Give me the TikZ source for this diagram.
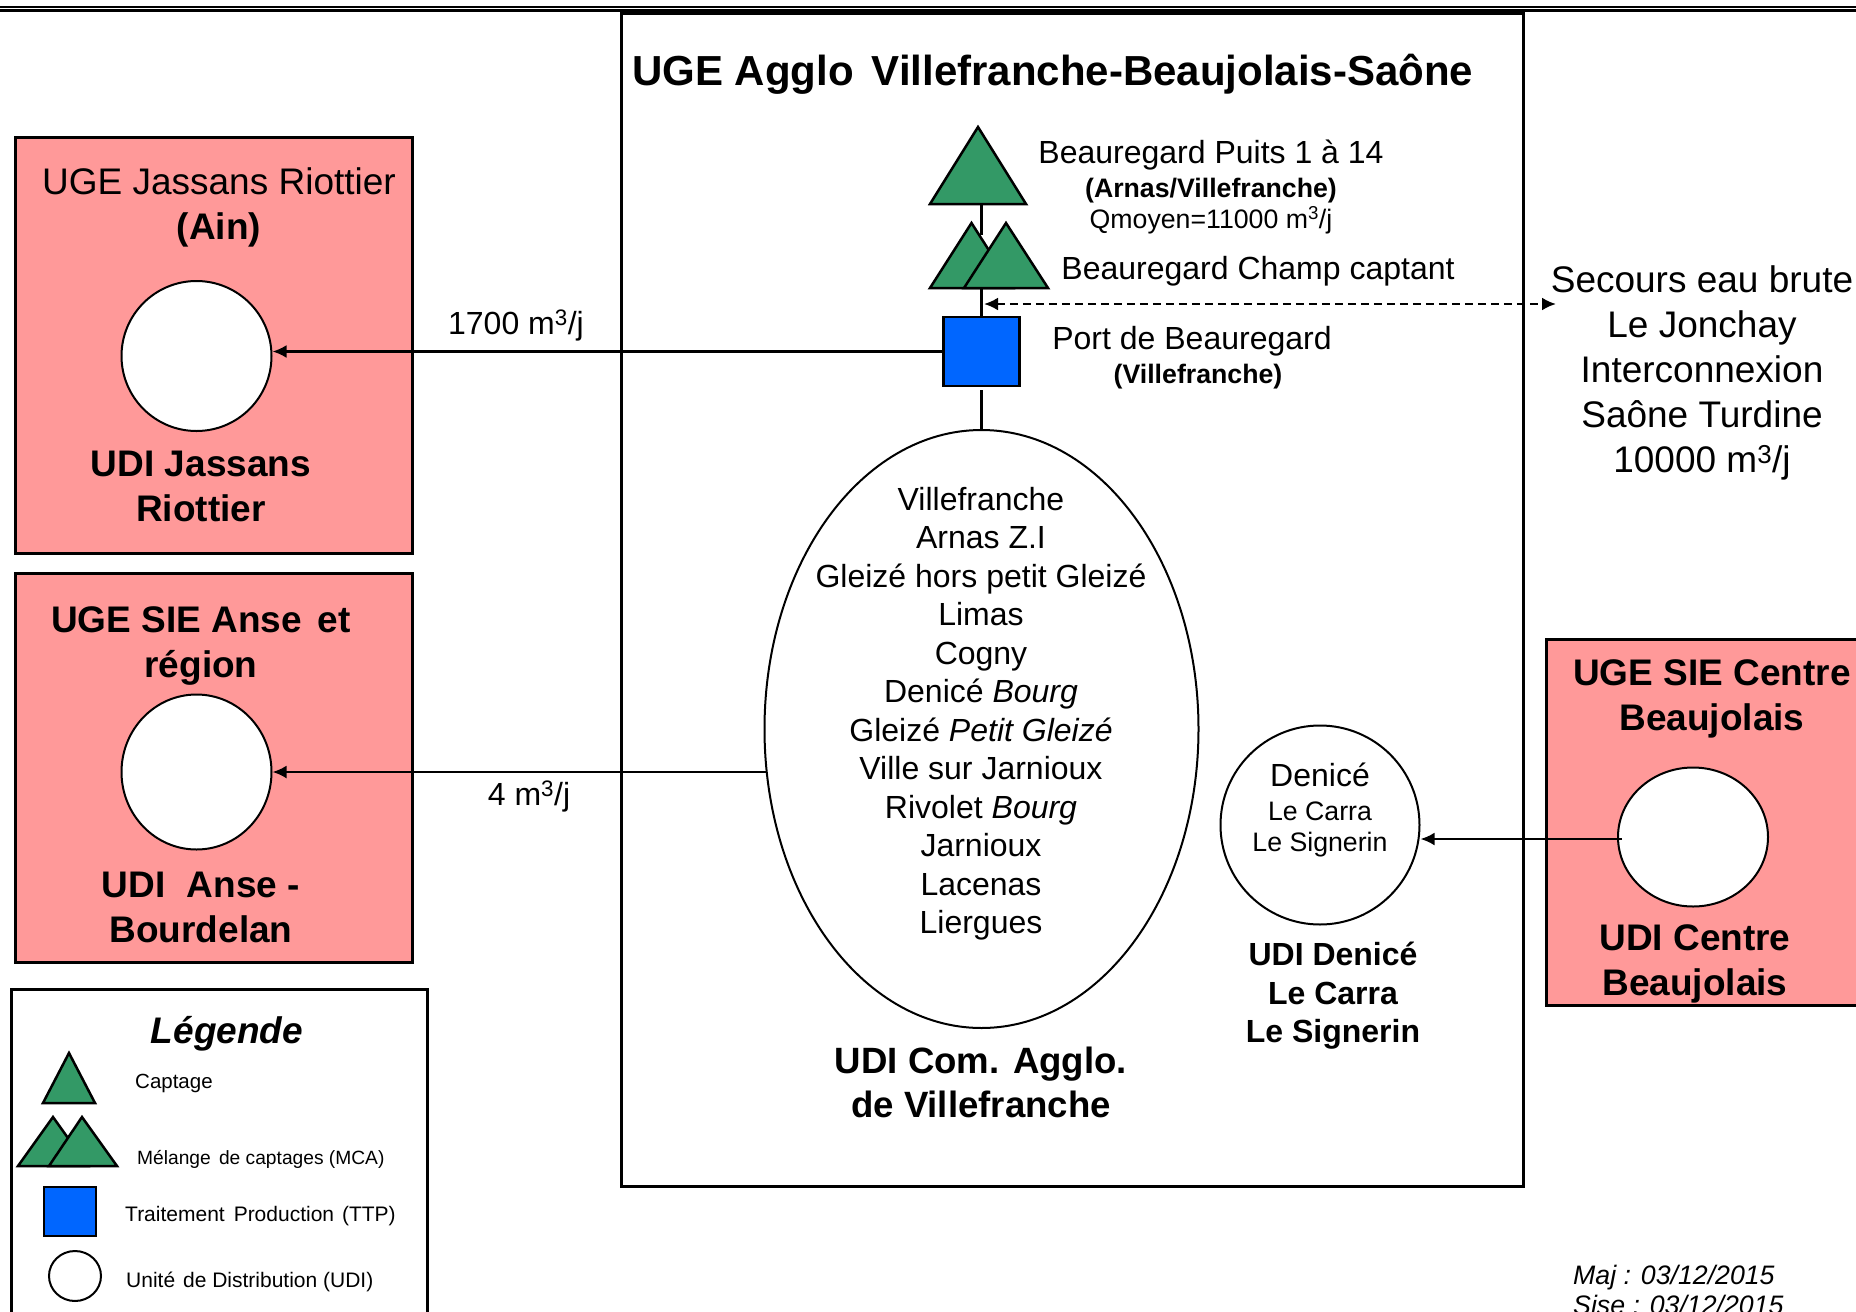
\documentclass[tikz,border=0pt]{standalone}
\usepackage{fontspec}
\setmainfont{Liberation Sans}
\usetikzlibrary{shapes.geometric,arrows.meta}

\definecolor{pinkbox}{HTML}{FF9999}
\definecolor{captagegreen}{HTML}{339966}
\definecolor{ttpblue}{HTML}{0066FF}

\newcommand{\fs}[2]{\fontsize{#1pt}{#2pt}\selectfont}

\tikzset{
    boxline/.style={draw=black, line width=3pt},
    uge/.style={boxline, fill=pinkbox},
    captage/.style={draw=black, fill=captagegreen, line width=2.5pt},
    ttp/.style={draw=black, fill=ttpblue, line width=2.5pt, rectangle, inner sep=0pt},
    udi/.style={draw=black, fill=white, line width=2pt, ellipse, inner sep=0pt},
    link/.style={line width=2.5pt},
    tip/.style={-{Latex[length=14pt,width=13pt]}},
    tips/.style={{Latex[length=14pt,width=13pt]}-{Latex[length=14pt,width=13pt]}},
    txt/.style={inner sep=0pt, align=center, text=black},
    big/.style={txt, font=\fs{37}{45}},
    bigb/.style={txt, font=\fs{37}{45}\bfseries},
    mid/.style={txt, font=\fs{32}{38.5}},
    midb/.style={txt, font=\fs{32}{38.5}\bfseries},
    small/.style={txt, font=\fs{26.7}{30}},
    smallb/.style={txt, font=\fs{26.7}{30}\bfseries},
    leg/.style={txt, anchor=west, font=\fs{21}{24}}
}

\begin{document}
\begin{tikzpicture}[x=1pt,y=-1pt]
    \useasboundingbox (0,0) rectangle (1856,1312);

    % top rule
    \draw[line width=2pt] (0,6.5) -- (1856,6.5);
    \draw[line width=2.5pt] (0,10.5) -- (1856,10.5);

    % boxes
    \draw[uge] (15,137) rectangle (412,553);
    \draw[uge] (15,573) rectangle (412,962);
    \draw[uge] (1546,639) rectangle (1870,1005);
    \draw[boxline] (621.5,13) rectangle (1523,1186);
    \draw[boxline] (11,989) rectangle (427,1330);

    % circles, ellipse, square
    \node[udi, minimum width=150pt, minimum height=150pt] (udiJassans) at (196.5,356) {};
    \node[udi, minimum width=150pt, minimum height=155pt] (udiAnse) at (196.5,772) {};
    \node[udi, minimum width=150pt, minimum height=139pt] (udiCentre) at (1693,837) {};
    \node[udi, minimum width=199pt, minimum height=199pt] (udiDenice) at (1320,825) {};
    \node[udi, minimum width=434pt, minimum height=598pt] (udiAgglo) at (981.5,729) {};
    \node[ttp, minimum width=76pt, minimum height=69pt] (portSquare) at (981.5,351.5) {};

    % captage coordinates
    \coordinate (puits_base) at (981.5,204);
    \coordinate (champ_top) at (981.5,235);
    \coordinate (champ_base) at (981.5,288);
    \coordinate (dash_left) at (984,304);
    \coordinate (dash_right) at (1556,304);
    \coordinate (flow_anse) at (767,772);
    \coordinate (flow_centre) at (1622,839);

    % connectors
    \draw[link] (puits_base) -- (champ_top);
    \draw[link] (champ_base) -- (portSquare.north);
    \draw[link, shorten <=3pt] (portSquare.south) -- (udiAgglo.north);
    \draw[link, tip] (portSquare.west) -- (portSquare.west -| udiJassans.east);
    \draw[link, tip] (flow_anse) -- (udiAnse.east);
    \draw[link, tip] (flow_centre) -- (flow_centre -| udiDenice.east);
    \draw[link, tips, dash pattern=on 8pt off 5pt] (dash_left) -- (dash_right);

    % triangles
    \draw[captage] (978,127) -- (1026,204) -- (930,204) -- cycle;
    \draw[captage] (971.5,223) -- (1013,288) -- (930,288) -- cycle;
    \draw[captage] (1006,223) -- (1048,288) -- (964,288) -- cycle;

    % title and labels of the middle box
    \node[txt, anchor=west, font=\fs{42}{45}\bfseries] (titleAgglo) at (632,74.5) {UGE Agglo\hspace{.15em} Villefranche-Beaujolais-Saône};
    \node[mid] (puitsLabel) at (1211,155.5) {Beauregard Puits 1 à 14};
    \node[smallb] (arnasLabel) at (1211,190.5) {(Arnas/Villefranche)};
    \node[small] (qmoyenLabel) at (1211,220) {Qmoyen=11000 m\textsuperscript{3}/j};
    \node[mid] (champLabel) at (1258,271.5) {Beauregard Champ captant};
    \node[mid] (portLabel) at (1192,341.5) {Port de Beauregard};
    \node[smallb] (villeLabel) at (1198,376.5) {(Villefranche)};

    \node[mid] (communes) at (981,713.5) {Villefranche\\Arnas Z.I\\Gleizé hors petit Gleizé\\Limas\\Cogny\\Denicé \textit{Bourg}\\Gleizé \textit{Petit Gleizé}\\Ville sur Jarnioux\\Rivolet \textit{Bourg}\\Jarnioux\\Lacenas\\Liergues};
    \node[txt, font=\fs{36.6}{44}\bfseries] (agglolabel) at (981,1082) {UDI Com. Agglo.\\de Villefranche};

    \node[mid] (deniceName) at (1320,775) {Denicé};
    \node[small] (carraName) at (1320,811) {Le Carra};
    \node[small] (signerinName) at (1320,845) {Le Signerin};
    \node[midb] (deniceLabel) at (1333,996) {UDI Denicé\\Le Carra\\Le Signerin};

    % left boxes
    \node[big] (jassansTitle) at (219,181) {UGE Jassans Riottier};
    \node[bigb] (ainLabel) at (219,229.5) {(Ain)};
    \node[bigb] (jassansLabel) at (201,486.5) {UDI Jassans\\Riottier};
    \node[bigb] (anseTitle) at (201,646) {UGE SIE Anse\hspace{.15em} et\\région};
    \node[bigb] (anseLabel) at (201,907.5) {UDI\hspace{.3em} Anse -\\Bourdelan};

    % right side
    \node[big] (secoursLabel) at (1702,372.5) {Secours eau brute\\Le Jonchay\\Interconnexion\\Saône Turdine\\10000 m\textsuperscript{3}/j};
    \node[bigb] (centreTitle) at (1712,699) {UGE SIE Centre\\Beaujolais};
    \node[bigb] (centreLabel) at (1695,964) {UDI Centre\\Beaujolais};

    % flows
    \node[mid] (flowJassans) at (516,325.5) {1700 m\textsuperscript{3}/j};
    \node[mid] (flowAnseLabel) at (529,796.5) {4 m\textsuperscript{3}/j};

    % legend
    \node[txt, font=\fs{37}{40}\bfseries\itshape] (legendTitle) at (227,1033.5) {Légende};
    \draw[captage] (69,1053) -- (95,1103) -- (43,1103) -- cycle;
    \draw[captage] (53,1117) -- (88,1166) -- (18,1166) -- cycle;
    \draw[captage] (82,1117) -- (117,1166) -- (49,1166) -- cycle;
    \node[ttp, minimum width=52pt, minimum height=49pt] (legendTtp) at (70,1211.5) {};
    \node[udi, minimum width=52pt, minimum height=50pt] (legendUdi) at (75,1276) {};
    \node[txt, anchor=west, font=\fs{20.5}{24}] (legCaptage) at (135,1083.5) {Captage};
    \node[txt, anchor=west, font=\fs{19.2}{24}] (legMelange) at (137,1159.5) {Mélange\hspace{.15em} de captages (MCA)};
    \node[leg] (legTtp) at (125,1216.5) {Traitement\hspace{.15em} Production\hspace{.1em} (TTP)};
    \node[leg] (legUdi) at (126,1281.5) {Unité\hspace{.1em} de Distribution (UDI)};

    % dates
    \node[txt, anchor=base west, font=\fs{26.7}{30}\itshape] (majLabel) at (1573,1284) {Maj : 03/12/2015};
    \node[txt, anchor=base west, font=\fs{26.7}{30}\itshape] (siseLabel) at (1573,1314) {Sise : 03/12/2015};
\end{tikzpicture}
\end{document}
